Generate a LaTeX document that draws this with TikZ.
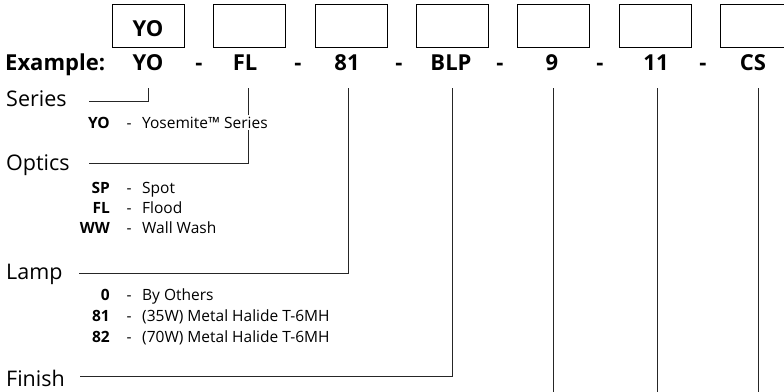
\documentclass[tikz,border=0pt]{standalone}
\usepackage{fontspec}
\setmainfont{Open Sans}
\begin{document}
\begin{tikzpicture}[x=1bp,y=-1bp,
  conn/.style={draw=black!85,line width=0.9bp},
  codebox/.style={draw=black,line width=0.9bp,minimum width=72bp,minimum height=42.5bp,inner sep=0pt,anchor=north west},
  ex/.style={font=\fontsize{22bp}{25bp}\selectfont\bfseries,anchor=base,inner sep=0pt},
  exlabel/.style={font=\fontsize{22bp}{25bp}\selectfont\bfseries,anchor=base west,inner sep=0pt},
  cat/.style={font=\fontsize{21.5bp}{25bp}\selectfont,anchor=base west,inner sep=0pt},
  optcode/.style={font=\fontsize{15.5bp}{17bp}\selectfont\bfseries,anchor=base east,inner sep=0pt},
  optdash/.style={font=\fontsize{15.5bp}{17bp}\selectfont,anchor=base,inner sep=0pt},
  optdesc/.style={font=\fontsize{15.5bp}{17bp}\selectfont,anchor=base west,inner sep=1.5bp,fill=white},
]
\useasboundingbox (0,0) rectangle (784,391);
\clip (0,0) rectangle (784,391);
% boxes
\node[codebox] (b1) at (112,4) {};
\node[codebox] (b2) at (213,4) {};
\node[codebox] (b3) at (314.5,4) {};
\node[codebox] (b4) at (416,4) {};
\node[codebox] (b5) at (517,4) {};
\node[codebox] (b6) at (618.5,4) {};
\node[codebox] (b7) at (720,4) {};
\node[ex] (byo) at (148,36) {YO};
% example row
\node[exlabel] (exl) at (5,70) {Example:};
\node[ex] (c1) at (148,70) {YO};
\node[ex] (d1) at (199,70) {-};
\node[ex] (c2) at (245,70) {FL};
\node[ex] (d2) at (298,70) {-};
\node[ex] (c3) at (347,70) {81};
\node[ex] (d3) at (399,70) {-};
\node[ex] (c4) at (451,70) {BLP};
\node[ex] (d4) at (500,70) {-};
\node[ex] (c5) at (552,70) {9};
\node[ex] (d5) at (600,70) {-};
\node[ex] (c6) at (656,70) {11};
\node[ex] (d6) at (703,70) {-};
\node[ex] (c7) at (753,70) {CS};
% connector coordinates
\coordinate (v1) at (148,88);
\coordinate (v2) at (248,88);
\coordinate (v3) at (348,88);
\coordinate (v4) at (452,88);
\coordinate (v5) at (553,88);
\coordinate (v6) at (657,88);
\coordinate (v7) at (758,88);
\coordinate (s1) at (89,101);
\coordinate (s2) at (89,163);
\coordinate (s3) at (79,273);
\coordinate (s4) at (80,376);
\coordinate (e5) at (553,395);
\coordinate (e6) at (657,395);
\coordinate (e7) at (758,395);
\draw[conn] (v1) |- (s1);
\draw[conn] (v2) |- (s2);
\draw[conn] (v3) |- (s3);
\draw[conn] (v4) |- (s4);
\draw[conn] (v5) -- (e5);
\draw[conn] (v6) -- (e6);
\draw[conn] (v7) -- (e7);
% categories
\node[cat] (series) at (6,106) {Series};
\node[cat] (optics) at (6,170) {Optics};
\node[cat] (lamp) at (6,279) {Lamp};
\node[cat] (finish) at (6,386) {Finish};
% options
\node[optcode] (o1c) at (110,128) {YO};
\node[optdash] (o1d) at (129,128) {-};
\node[optdesc] (o1t) at (140.5,128) {Yosemite™ Series};
\node[optcode] (o2c) at (110,193) {SP};
\node[optdash] (o2d) at (129,193) {-};
\node[optdesc] (o2t) at (140.5,193) {Spot};
\node[optcode] (o3c) at (110,213) {FL};
\node[optdash] (o3d) at (129,213) {-};
\node[optdesc] (o3t) at (140.5,213) {Flood};
\node[optcode] (o4c) at (110,233) {WW};
\node[optdash] (o4d) at (129,233) {-};
\node[optdesc] (o4t) at (140.5,233) {Wall Wash};
\node[optcode] (o5c) at (110,300) {0};
\node[optdash] (o5d) at (129,300) {-};
\node[optdesc] (o5t) at (140.5,300) {By Others};
\node[optcode] (o6c) at (110,321) {81};
\node[optdash] (o6d) at (129,321) {-};
\node[optdesc] (o6t) at (140.5,321) {(35W) Metal Halide T-6MH};
\node[optcode] (o7c) at (110,342) {82};
\node[optdash] (o7d) at (129,342) {-};
\node[optdesc] (o7t) at (140.5,342) {(70W) Metal Halide T-6MH};
\end{tikzpicture}
\end{document}
